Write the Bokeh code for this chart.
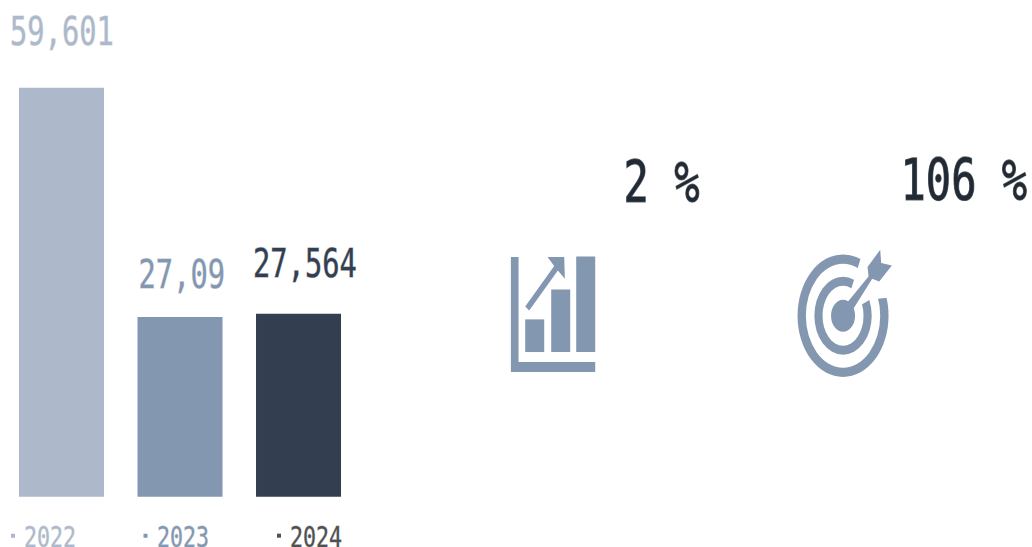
from bokeh.plotting import figure
from bokeh.models import Range1d, InlineStyleSheet
from bokeh.core.properties import value
from bokeh.embed import file_html
from bokeh.resources import INLINE

# ---- data ----
years = ["2022", "2023", "2024"]
values = [59601, 27090, 27564]
value_labels = ["59,601", "27,09", "27,564"]
kpi_labels = ["2 %", "106 %"]
bar_colors = ["#adb9ca", "#8497b0", "#333f50"]
year_colors = ["#adb9ca", "#8497b0", "#505050"]
value_colors = ["#adb9ca", "#8497b0", "#333f50"]
value_halo = ["rgba(173,185,202,0.35)", "rgba(132,151,176,0.35)", "rgba(51,63,80,0.35)"]
year_halo = ["rgba(173,185,202,0.3)", "rgba(132,151,176,0.3)", "rgba(80,80,80,0.3)"]
INK = "#222b35"
INK_HALO = "rgba(34,43,53,0.7)"
ICON = "#8497b0"
FONT = value("DejaVu Sans Mono")

# The reference is a squeezed picture: its glyphs are about 3/4 as wide as they
# should be. The figure is drawn smaller and its canvas stretched to the window.
W, H = 1016, 404
SX, SY = 1032 / W, 547 / H

p = figure(width=W, height=H, output_backend="svg", toolbar_location=None,
           x_axis_type=None, y_axis_type=None, min_border=0,
           x_range=Range1d(0, 1032), y_range=Range1d(547, 0),
           outline_line_color=None, background_fill_color="white",
           border_fill_color="white")
p.grid.visible = False
p.stylesheets = [InlineStyleSheet(css=(
    f":host {{ overflow: visible; }} "
    f":host > * {{ transform: scale({SX},{SY}); transform-origin: 0 0; overflow: visible; }}"))]

# value scale: 59,601 at y=88, 27,564 at y=314, floor of bars at y=497
p.extra_y_ranges = {"val": Range1d(-5611, 71934)}
BASE = 1620

bar_x = [61, 179.5, 298]
p.vbar(x=bar_x, top=values, bottom=BASE, width=85, fill_color=bar_colors,
       line_color=None, y_range_name="val")

# value labels
p.text(x=[9.5, 138, 252.5], y=[30, 273, 262], text=value_labels, text_color=value_colors,
       text_outline_color=value_halo,
       text_font=FONT, text_font_size="28.3px", text_baseline="alphabetic", text_align="left")

# year labels with little square marks
year_x = [23.5, 156.5, 289.5]
p.text(x=year_x, y=[535, 535, 535], text=years, text_color=year_colors,
       text_outline_color=year_halo,
       text_font=FONT, text_font_size="21.3px", text_baseline="alphabetic", text_align="left")
mx = [12.5, 145, 278.5]
p.quad(left=[m - 2 for m in mx], right=[m + 2 for m in mx], top=[533] * 3, bottom=[537] * 3,
       fill_color=year_colors, line_color=None)

# KPI labels
p.text(x=[623, 900], y=[182, 180], text=kpi_labels, text_color=INK,
       text_outline_color=INK_HALO,
       text_font=FONT, text_font_size="41.4px", text_baseline="alphabetic", text_align="left")


def z(pts, ox, oy):
    return [ox + a / 3 for a, _ in pts], [oy + b / 3 for _, b in pts]


def poly(pts, ox, oy, color=ICON):
    xs, ys = z(pts, ox, oy)
    p.patch(xs, ys, fill_color=color, line_color=None)


# chart icon
ox, oy = 489.7, 149.7
for pts in [
    [(62, 320), (85, 320), (85, 635), (315, 635), (315, 665), (62, 665)],
    [(105, 507), (162, 507), (162, 605), (105, 605)],
    [(183, 417), (240, 417), (240, 605), (183, 605)],
    [(258, 318), (315, 318), (315, 605), (258, 605)],
    [(172, 320), (222, 320), (224, 385), (203, 360), (117, 480), (105, 468), (192, 347)],
]:
    poly(pts, ox, oy)

# target icon
ox, oy = 779.7, 149.7
cx, cy = ox + 188.5 / 3, oy + 496 / 3
for (w, h, c) in [(273, 368, ICON), (223, 312, "white"), (172, 234, ICON), (123, 180, "white")]:
    p.ellipse(x=[cx], y=[cy], width=w / 3, height=h / 3, fill_color=c, line_color=None)
poly([(188, 496), (252, 290), (330, 320), (345, 420), (345, 440), (270, 447)], ox, oy, "white")
p.ellipse(x=[cx], y=[cy], width=72 / 3, height=96 / 3, fill_color=ICON, line_color=None)
poly([(190, 470), (265, 378), (262, 350), (300, 298), (303, 338), (335, 345), (297, 393),
      (276, 385), (210, 490)], ox, oy)

open("out.html", "w").write(file_html(p, INLINE))
